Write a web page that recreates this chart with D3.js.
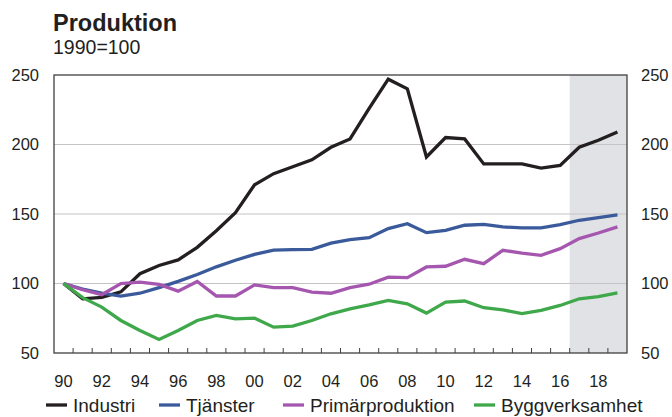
<!DOCTYPE html>
<html>
<head>
<meta charset="utf-8">
<script src="https://cdn.jsdelivr.net/npm/d3@7"></script>
<style>
  body { margin: 0; background: #fff; }
  text { font-family: "Liberation Sans", Arial, sans-serif; fill: #231f20; }
</style>
</head>
<body>
<svg id="chart" width="672" height="417"></svg>
<script>
var years = d3.range(1990, 2020);
var industri = [100, 89, 90, 94, 107, 113, 117, 126, 138, 151, 171, 179, 184, 189, 198, 204, 226, 247, 240, 191, 205, 204, 186, 186, 186, 183, 185, 198, 203, 209];
var tjanster = [100, 96, 93, 91, 93, 97, 101.5, 106.5, 112, 116.7, 121, 124, 124.3, 124.6, 129, 131.5, 133, 139.5, 143, 136.6, 138.3, 141.9, 142.6, 140.7, 140, 140, 142.3, 145.5, 147.4, 149.3];
var primar = [100, 95.5, 92, 100, 101, 99.3, 94.5, 101.5, 91, 91, 99, 97, 97, 93.8, 93, 97, 99.5, 104.6, 104.2, 111.9, 112.4, 117.4, 114.3, 123.9, 121.9, 120.3, 125.1, 132.3, 136.3, 140.7];
var bygg = [100, 89.8, 83, 73.4, 66.2, 59.7, 66.2, 73.4, 77, 74.6, 75.1, 68.6, 69.3, 73.4, 78.2, 81.8, 84.6, 87.8, 85.4, 78.7, 86.6, 87.4, 82.6, 81.1, 78.3, 80.6, 84.2, 89, 90.6, 93.3];
var seriesNames = ["Industri", "Tjänster", "Primärproduktion", "Byggverksamhet"];
var colors = ["#231f20", "#3a5a9b", "#a557b0", "#3fa84a"];
var yTicks = [50, 100, 150, 200, 250];
var forecastStart = 2017;

var svg = d3.select("#chart"),
    margin = { top: 75, right: 45, bottom: 64, left: 54 },
    width = +svg.attr("width") - margin.left - margin.right,
    height = +svg.attr("height") - margin.top - margin.bottom,
    g = svg.append("g").attr("transform", "translate(" + margin.left + "," + margin.top + ")");

var x = d3.scaleBand().domain(years).range([0, width]).padding(0);
var y = d3.scaleLinear().domain([50, 250]).range([height, 0]);
var cx = function (yr) { return x(yr) + x.bandwidth() / 2; };

// forecast shading
g.append("rect")
    .attr("x", x(forecastStart))
    .attr("y", 0)
    .attr("width", width - x(forecastStart))
    .attr("height", height)
    .attr("fill", "#e1e2e5");

// grid lines
g.selectAll(".grid")
    .data([100, 150, 200])
    .enter().append("line")
    .attr("x1", 0).attr("x2", width)
    .attr("y1", function (d) { return y(d); })
    .attr("y2", function (d) { return y(d); })
    .attr("stroke", "#c4c4c4")
    .attr("stroke-width", 1);

// y labels both sides
g.selectAll(".ylab")
    .data(yTicks)
    .enter().append("text")
    .attr("x", -15)
    .attr("y", function (d) { return y(d); })
    .attr("dy", "0.36em")
    .attr("text-anchor", "end")
    .style("font-size", "16.5px")
    .text(function (d) { return d; });

g.selectAll(".ylabr")
    .data(yTicks)
    .enter().append("text")
    .attr("x", width + 14)
    .attr("y", function (d) { return y(d); })
    .attr("dy", "0.36em")
    .attr("text-anchor", "start")
    .style("font-size", "16.5px")
    .text(function (d) { return d; });

// x ticks at year boundaries
g.selectAll(".xtick")
    .data(years.slice(1))
    .enter().append("line")
    .attr("x1", function (d) { return x(d); })
    .attr("x2", function (d) { return x(d); })
    .attr("y1", height)
    .attr("y2", height - 5)
    .attr("stroke", "#404040")
    .attr("stroke-width", 1);

g.selectAll(".xlab")
    .data(years.filter(function (d) { return d % 2 === 0; }))
    .enter().append("text")
    .attr("x", cx)
    .attr("y", height + 34)
    .attr("text-anchor", "middle")
    .style("font-size", "16.5px")
    .text(function (d) { return String(d).slice(2); });

// lines
var line = d3.line()
    .x(function (d, i) { return cx(years[i]); })
    .y(function (d) { return y(d); });

[industri, tjanster, primar, bygg].forEach(function (s, i) {
    g.append("path")
        .datum(s)
        .attr("fill", "none")
        .attr("stroke", colors[i])
        .attr("stroke-width", 3.3)
        .attr("stroke-linejoin", "miter")
        .attr("d", line);
});

// frame
g.append("rect")
    .attr("x", 0).attr("y", 0)
    .attr("width", width).attr("height", height)
    .attr("fill", "none")
    .attr("stroke", "#404040")
    .attr("stroke-width", 1.3);

// title
svg.append("text")
    .attr("x", 53).attr("y", 30.5)
    .style("font-size", "23.5px")
    .style("font-weight", "bold")
    .text("Produktion");

svg.append("text")
    .attr("x", 53).attr("y", 54)
    .style("font-size", "19.5px")
    .text("1990=100");

// legend
var legendX = [46, 159, 283, 474];
var leg = svg.selectAll(".leg")
    .data(seriesNames)
    .enter().append("g")
    .attr("transform", function (d, i) { return "translate(" + legendX[i] + ",405)"; });

leg.append("line")
    .attr("x1", 0).attr("x2", 21)
    .attr("y1", 0).attr("y2", 0)
    .attr("stroke", function (d, i) { return colors[i]; })
    .attr("stroke-width", 3.3);

leg.append("text")
    .attr("x", 27)
    .attr("y", 7.3)
    .style("font-size", "19px")
    .text(function (d) { return d; });
</script>
</body>
</html>
